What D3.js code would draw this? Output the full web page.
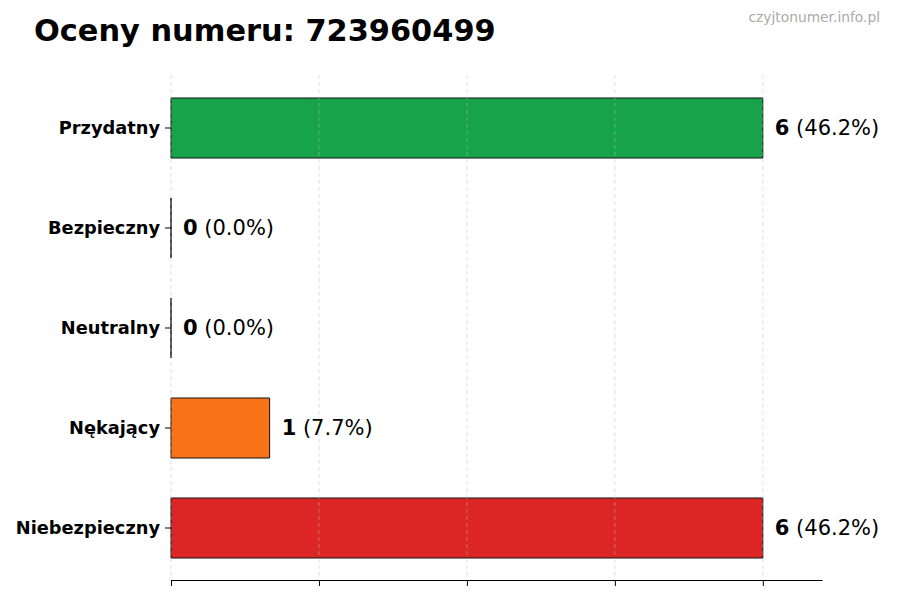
<!DOCTYPE html>
<html>
<head>
<meta charset="utf-8">
<script src="https://cdn.jsdelivr.net/npm/d3@7.9.0/dist/d3.min.js"></script>
<style>
  body { margin: 0; background: #fff; }
  svg { font-family: 'DejaVu Sans', sans-serif; }
</style>
</head>
<body>
<svg id="chart" width="900" height="600"></svg>
<script>
const categories = ['Przydatny', 'Bezpieczny', 'Neutralny', 'Nękający', 'Niebezpieczny'];
const counts = [6, 0, 0, 1, 6];
const percents = ['46.2%', '0.0%', '0.0%', '7.7%', '46.2%'];
const colors = ['#16a34a', '#16a34a', '#9ca3af', '#f97316', '#dc2626'];
const xTicks = [0, 1.5, 3, 4.5, 6];

const svg = d3.select('#chart');
const plotLeft = 171, plotRight = 822, plotTop = 75, plotBottom = 580;

const x = d3.scaleLinear().domain([0, 6.6]).range([plotLeft, plotRight]);
const y = d3.scaleBand()
  .domain(categories)
  .range([78, 578])
  .paddingInner(0.4)
  .paddingOuter(0.2);

svg.append('text')
  .attr('x', 34).attr('y', 41)
  .attr('font-size', 30.4).attr('font-weight', 'bold')
  .text('Oceny numeru: 723960499');

svg.append('text')
  .attr('x', 880).attr('y', 22)
  .attr('text-anchor', 'end')
  .attr('font-size', 13.8).attr('fill', '#aaa')
  .text('czyjtonumer.info.pl');

// bars (paths so zero-width bars still show their outline)
svg.selectAll('path.bar')
  .data(categories)
  .join('path')
  .attr('class', 'bar')
  .attr('d', (d, i) => {
    const w = x(counts[i]) - x(0);
    const h = y.bandwidth();
    return `M${x(0)},${y(d)}h${w}v${h}h${-w}Z`;
  })
  .attr('fill', (d, i) => colors[i])
  .attr('stroke', '#111')
  .attr('stroke-width', 1);

// grid
svg.selectAll('line.grid')
  .data(xTicks)
  .join('line')
  .attr('class', 'grid')
  .attr('x1', d => x(d)).attr('x2', d => x(d))
  .attr('y1', plotTop).attr('y2', plotBottom)
  .attr('stroke', '#bbb')
  .attr('stroke-opacity', 0.6)
  .attr('stroke-dasharray', '4,3')
  .attr('stroke-width', 0.8);

// x axis
const xAxis = svg.append('g')
  .attr('transform', `translate(0,${plotBottom})`)
  .call(d3.axisBottom(x).tickValues(xTicks).tickFormat('').tickSize(6).tickSizeOuter(0));
xAxis.select('.domain').attr('stroke', '#000').attr('stroke-width', 1.2);
xAxis.selectAll('.tick line').attr('stroke', '#000');

// y axis (labels + ticks, no spine)
const yAxis = svg.append('g')
  .attr('transform', `translate(${plotLeft},0)`)
  .call(d3.axisLeft(y).tickSize(6).tickPadding(5));
yAxis.select('.domain').remove();
yAxis.selectAll('.tick line').attr('stroke', '#000');
yAxis.selectAll('.tick text')
  .attr('font-family', "'DejaVu Sans', sans-serif")
  .attr('font-size', 17.8)
  .attr('font-weight', 'bold')
  .attr('fill', '#000');

// value labels
const labels = svg.selectAll('text.val')
  .data(categories)
  .join('text')
  .attr('class', 'val')
  .attr('x', (d, i) => x(counts[i]) + 12)
  .attr('y', d => y(d) + y.bandwidth() / 2)
  .attr('dy', '0.35em')
  .attr('font-size', 21);
labels.append('tspan')
  .attr('font-weight', 'bold')
  .text((d, i) => counts[i]);
labels.append('tspan')
  .text((d, i) => ` (${percents[i]})`);
</script>
</body>
</html>
